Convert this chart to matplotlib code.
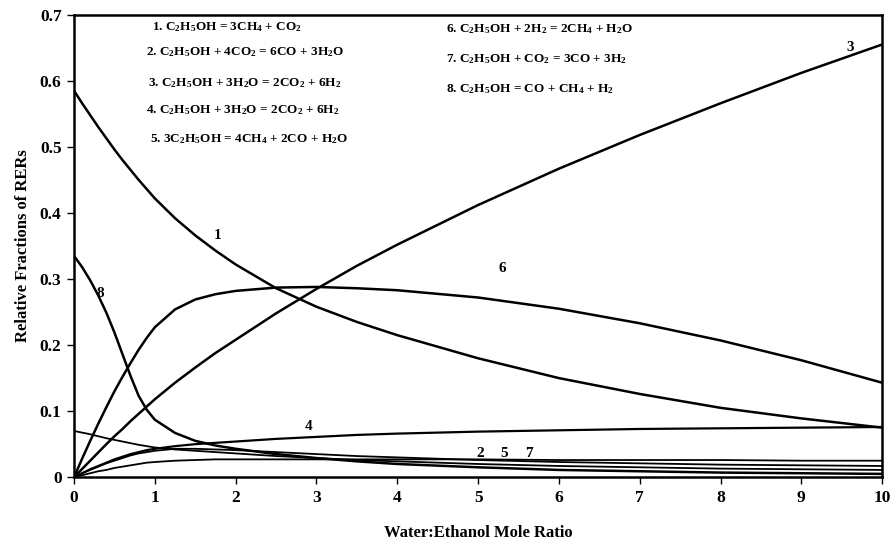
import matplotlib
matplotlib.use("Agg")
from matplotlib import pyplot as plt

plt.rcParams['font.family'] = ['Liberation Serif', 'DejaVu Serif']
plt.rcParams['font.weight'] = 'bold'
plt.rcParams['mathtext.default'] = 'regular'

# water:ethanol mole ratio
ratio = [0, 0.1, 0.2, 0.3, 0.4, 0.5, 0.6, 0.7, 0.8, 0.9, 1.0, 1.25, 1.5, 1.75, 2, 2.5, 3, 3.5, 4,
         5, 6, 7, 8, 9, 10]

# relative fractions of the independent reactions
rer1 = [0.585, 0.566, 0.548, 0.53, 0.513, 0.496, 0.48, 0.465, 0.45, 0.436, 0.422, 0.392, 0.366, 0.343,
        0.322, 0.286, 0.258, 0.235, 0.215, 0.18, 0.15, 0.126, 0.105, 0.089, 0.075]
rer2 = [0, 0.006, 0.011, 0.016, 0.021, 0.025, 0.029, 0.033, 0.036, 0.038, 0.04, 0.043, 0.043, 0.042,
        0.041, 0.038, 0.035, 0.032, 0.03, 0.026, 0.023, 0.021, 0.019, 0.018, 0.017]
rer3 = [0, 0.0125, 0.025, 0.0375, 0.05, 0.062, 0.073, 0.085, 0.096, 0.107, 0.118, 0.143, 0.166, 0.188,
        0.208, 0.248, 0.285, 0.32, 0.352, 0.412, 0.467, 0.518, 0.566, 0.612, 0.655]
rer4 = [0, 0.006, 0.012, 0.017, 0.022, 0.027, 0.031, 0.035, 0.038, 0.041, 0.043, 0.047, 0.05, 0.052,
        0.054, 0.058, 0.061, 0.064, 0.066, 0.069, 0.071, 0.073, 0.074, 0.075, 0.076]
rer5 = [0.07, 0.0675, 0.065, 0.062, 0.059, 0.0565, 0.054, 0.0515, 0.049, 0.047, 0.045, 0.042, 0.04, 0.038,
        0.036, 0.032, 0.029, 0.026, 0.024, 0.02, 0.017, 0.015, 0.013, 0.012, 0.011]
rer6 = [0, 0.028, 0.055, 0.081, 0.106, 0.13, 0.152, 0.173, 0.193, 0.211, 0.227, 0.254, 0.269, 0.277,
        0.282, 0.287, 0.288, 0.286, 0.283, 0.272, 0.255, 0.233, 0.207, 0.177, 0.143]
rer7 = [0, 0.003, 0.006, 0.009, 0.011, 0.014, 0.016, 0.018, 0.02, 0.022, 0.023, 0.025, 0.026, 0.027,
        0.027, 0.027, 0.027, 0.027, 0.027, 0.027, 0.026, 0.026, 0.026, 0.025, 0.025]
rer8 = [0.335, 0.318, 0.298, 0.275, 0.249, 0.219, 0.186, 0.153, 0.123, 0.102, 0.087, 0.067, 0.055, 0.048,
        0.043, 0.035, 0.029, 0.024, 0.02, 0.015, 0.011, 0.009, 0.007, 0.006, 0.005]

reactions_left = [
    "1. C$_2$H$_5$OH = 3CH$_4$ + CO$_2$",
    "2. C$_2$H$_5$OH + 4CO$_2$ = 6CO + 3H$_2$O",
    "3. C$_2$H$_5$OH + 3H$_2$O = 2CO$_2$ + 6H$_2$",
    "4. C$_2$H$_5$OH + 3H$_2$O = 2CO$_2$ + 6H$_2$",
    "5. 3C$_2$H$_5$OH = 4CH$_4$ + 2CO + H$_2$O",
]
reactions_right = [
    "6. C$_2$H$_5$OH + 2H$_2$ = 2CH$_4$ + H$_2$O",
    "7. C$_2$H$_5$OH + CO$_2$ = 3CO + 3H$_2$",
    "8. C$_2$H$_5$OH = CO + CH$_4$ + H$_2$",
]

fig = plt.figure(figsize=(8.92, 5.46), dpi=100)
ax = fig.add_axes([0.083, 0.126, 0.906, 0.847])

# big curves
for y in (rer1, rer3, rer6, rer8):
    ax.plot(ratio, y, color="black", lw=1.8)
ax.plot(ratio, rer4, color="black", lw=1.6)
# small ones
for y in (rer2, rer5, rer7):
    ax.plot(ratio, y, color="black", lw=1.3)

ax.set_xlim(0, 10)
ax.set_ylim(0, 0.7)
ax.set_xticks(range(0, 11))
ax.set_yticks([0, 0.1, 0.2, 0.3, 0.4, 0.5, 0.6, 0.7])
ax.set_yticklabels(["0", "0.1", "0.2", "0.3", "0.4", "0.5", "0.6", "0.7"])
ax.tick_params(direction="out", length=5, width=1, labelsize=12.5, pad=4)
for lab in ax.get_xticklabels() + ax.get_yticklabels():
    lab.set_fontweight("bold")
for s in ax.spines.values():
    s.set_linewidth(1.8)

ax.set_xlabel("Water:Ethanol Mole Ratio", fontsize=12, fontweight="bold", labelpad=14)
ax.set_ylabel("Relative Fractions of RERs", fontsize=12, fontweight="bold", labelpad=6)

# curve numbers
labs = [("1", 1.78, 0.366), ("8", 0.33, 0.278), ("6", 5.3, 0.316), ("3", 9.6, 0.65),
        ("4", 2.9, 0.076), ("2", 5.02, 0.036), ("5", 5.32, 0.036), ("7", 5.63, 0.036)]
for t, x, y in labs:
    ax.text(x, y, t, fontsize=11, fontweight="bold", ha="center", va="center")

# reaction list
ly = [0.951, 0.904, 0.848, 0.798, 0.746]
lx = [0.170, 0.164, 0.166, 0.164, 0.168]
for t, x, y in zip(reactions_left, lx, ly):
    fig.text(x, y, t, fontsize=9.5, fontweight="bold", va="center")
ry = [0.946, 0.891, 0.836]
for t, y in zip(reactions_right, ry):
    fig.text(0.500, y, t, fontsize=9.5, fontweight="bold", va="center")

fig.savefig("out.png", dpi=100)
